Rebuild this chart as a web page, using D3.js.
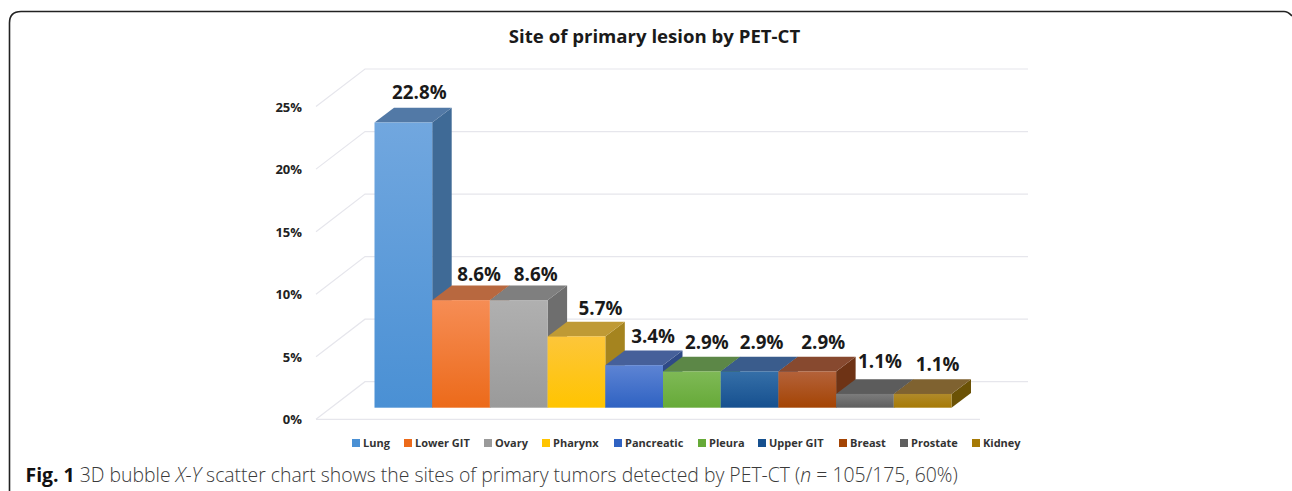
<!DOCTYPE html>
<html>
<head>
<meta charset="utf-8">
<script src="https://cdn.jsdelivr.net/npm/d3@7"></script>
<style>
    html, body { margin: 0; padding: 0; background: #fff; }
    svg { display: block; }
    text { font-family: "Open Sans", "Noto Sans", sans-serif; }
</style>
</head>
<body>
<svg id="chart" width="1292" height="491"></svg>
<script>
const categories = ["Lung", "Lower GIT", "Ovary", "Pharynx", "Pancreatic", "Pleura", "Upper GIT", "Breast", "Prostate", "Kidney"];
const values = [22.8, 8.6, 8.6, 5.7, 3.4, 2.9, 2.9, 2.9, 1.1, 1.1];
const yTicks = [0, 5, 10, 15, 20, 25];
// couleurs : haut du devant, bas du devant, dessus, côté
const frontTop = ["#71a7df", "#f68d55", "#b0b0b0", "#fdc63a", "#5d84d4", "#7fb956", "#356fa8", "#b4623a", "#7c7c7c", "#b08a2a"];
const frontBottom = ["#4a90d4", "#ec6a1a", "#9a9a9a", "#ffc400", "#2f62c2", "#66aa38", "#16508f", "#a44404", "#5f5f5f", "#a67a06"];
const topColors = ["#5279a6", "#b8683f", "#7f7f7f", "#bf9a35", "#46609a", "#5c8747", "#3a5c8c", "#87492f", "#5c5c5c", "#7f6230"];
const sideColors = ["#3f6a96", "#8f4a20", "#6e6e6e", "#a5841f", "#2f4a86", "#44702b", "#1f4470", "#6e3315", "#3f3f3f", "#6b5206"];
// décalage manuel des étiquettes, comme dans l'original
const labelDx = [16, 18, 17, 24, 19, 15, 12, 16, 15, 15];
const labelDy = [8.5, 4.5, 4.5, 6.5, 7.5, 7.5, 7.5, 7.5, 11, 8];
const legendX = [352, 404, 484, 542, 614, 698, 758, 839, 900, 972];

const svg = d3.select("#chart");
const defs = svg.append("defs");

// scales du graphique
const x = d3.scaleBand().domain(categories).range([374.5, 951.5]);
const y = d3.scaleLinear().domain([0, 25]).range([407.7, 95]);

const depth = { dx: 19.5, dy: -14.7 };      // profondeur des barres
const wall = { dx: 49, dy: -37.6 };         // profondeur du plancher
const floorLeft = 316;
const wallRight = 1028;
const floorY = d => y(d) + 11.6;

// cadre de la figure (le coin droit sort de l'image)
svg.append("path")
    .attr("d", "M9.5,491 V23 Q9.5,11.5 21,11.5 H1284 Q1288,11.5 1292,16")
    .attr("fill", "none")
    .attr("stroke", "#222")
    .attr("stroke-width", 1.6);

svg.append("text")
    .attr("x", 654.5).attr("y", 43)
    .attr("text-anchor", "middle")
    .attr("font-size", 18.6)
    .attr("font-weight", 700)
    .attr("fill", "#1a1a1a")
    .text("Site of primary lesion by PET-CT");

// lignes de grille (mur + côté)
const grid = svg.append("g")
    .attr("fill", "none")
    .attr("stroke", "#e6e6ec")
    .attr("stroke-width", 1.2);

grid.selectAll(".wall")
    .data(yTicks)
    .enter().append("polyline")
    .attr("class", "wall")
    .attr("points", d => `${floorLeft},${floorY(d)} ${floorLeft + wall.dx},${floorY(d) + wall.dy} ${wallRight},${floorY(d) + wall.dy}`);

grid.append("line")
    .attr("x1", floorLeft).attr("x2", 980)
    .attr("y1", floorY(0)).attr("y2", floorY(0));

svg.append("g")
    .selectAll("text")
    .data(yTicks)
    .enter().append("text")
    .attr("x", 302)
    .attr("y", d => floorY(d) + 5)
    .attr("text-anchor", "end")
    .attr("font-size", 13)
    .attr("font-weight", 700)
    .attr("fill", "#222")
    .text(d => `${d}%`);

categories.forEach((c, i) => {
    const grad = defs.append("linearGradient")
        .attr("id", `front-${i}`)
        .attr("x1", 0).attr("y1", 0).attr("x2", 0).attr("y2", 1);
    grad.append("stop").attr("offset", 0).attr("stop-color", frontTop[i]);
    grad.append("stop").attr("offset", 1).attr("stop-color", frontBottom[i]);
});

// de gauche à droite : chaque barre recouvre le côté de la précédente
const bars = svg.append("g")
    .selectAll("g")
    .data(categories.map((c, i) => ({ c, i, v: values[i] })))
    .enter().append("g");

bars.append("polygon")
    .attr("fill", d => sideColors[d.i])
    .attr("points", d => {
        const r = x(d.c) + x.bandwidth();
        return `${r},${y(d.v)} ${r + depth.dx},${y(d.v) + depth.dy} ${r + depth.dx},${y(0) + depth.dy} ${r},${y(0)}`;
    });

bars.append("polygon")
    .attr("fill", d => topColors[d.i])
    .attr("points", d => {
        const l = x(d.c), r = l + x.bandwidth();
        return `${l},${y(d.v)} ${l + depth.dx},${y(d.v) + depth.dy} ${r + depth.dx},${y(d.v) + depth.dy} ${r},${y(d.v)}`;
    });

bars.append("rect")
    .attr("x", d => x(d.c))
    .attr("y", d => y(d.v))
    .attr("width", x.bandwidth())
    .attr("height", d => y(0) - y(d.v))
    .attr("fill", d => `url(#front-${d.i})`);

// étiquettes à part, pour rester au-dessus de toutes les barres
svg.append("g")
    .selectAll("text")
    .data(values)
    .enter().append("text")
    .attr("x", (d, i) => x(categories[i]) + x.bandwidth() / 2 + labelDx[i])
    .attr("y", (d, i) => y(d) + depth.dy - labelDy[i])
    .attr("text-anchor", "middle")
    .attr("font-size", 18.8)
    .attr("font-weight", 700)
    .attr("fill", "#1a1a1a")
    .text(d => `${d.toFixed(1)}%`);

// légende
const legend = svg.append("g")
    .selectAll("g")
    .data(categories)
    .enter().append("g")
    .attr("transform", (d, i) => `translate(${legendX[i]},443)`);

legend.append("rect")
    .attr("y", -4).attr("width", 8).attr("height", 8)
    .attr("fill", (d, i) => frontBottom[i]);

legend.append("text")
    .attr("x", 11).attr("y", 3.7)
    .attr("font-size", 11)
    .attr("font-weight", 700)
    .attr("fill", "#333")
    .text(d => d);

// légende de la figure
const caption = svg.append("text")
    .attr("x", 25.5).attr("y", 482)
    .attr("font-size", 19.4)
    .attr("font-weight", 300)
    .attr("fill", "#3a3a3a");
caption.append("tspan").attr("font-weight", 700).attr("fill", "#111").text("Fig. 1");
caption.append("tspan").text(" 3D bubble ");
caption.append("tspan").attr("font-style", "italic").text("X-Y");
caption.append("tspan").text(" scatter chart shows the sites of primary tumors detected by PET-CT (");
caption.append("tspan").attr("font-style", "italic").text("n");
caption.append("tspan").text(" = 105/175, 60%)");
</script>
</body>
</html>
